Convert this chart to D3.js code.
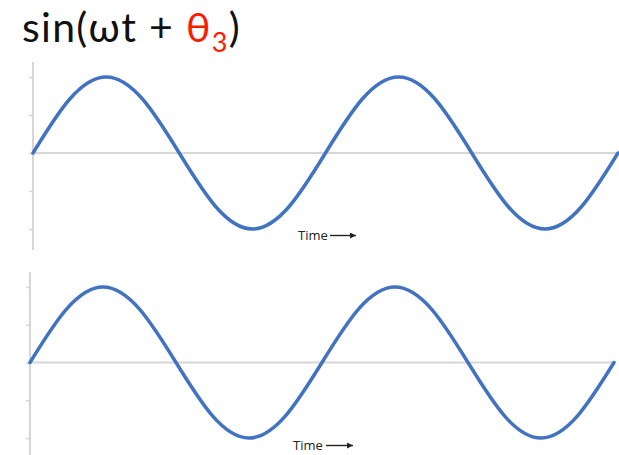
<!DOCTYPE html>
<html>
<head>
<meta charset="utf-8">
<script src="https://cdn.jsdelivr.net/npm/d3@7"></script>
<style>
  html, body { margin: 0; padding: 0; background: #ffffff; }
  svg { display: block; }
</style>
</head>
<body>
<svg id="chart" width="619" height="455"></svg>
<script>
// Wave samples: phase (in periods) and amplitude at each sample
const phaseSteps = [0, 0.125, 0.25, 0.375, 0.5, 0.625, 0.75, 0.875, 1,
                    1.125, 1.25, 1.375, 1.5, 1.625, 1.75, 1.875, 2];
const waveValues = [0, 0.707, 1, 0.707, 0, -0.707, -1, -0.707, 0,
                    0.707, 1, 0.707, 0, -0.707, -1, -0.707, 0];
// Vertical axis ticks
const tickValues = [-1, -0.5, 0, 0.5, 1];
const axisLabel = "Time";

const svg = d3.select("#chart");
const waveColor = "#4173c0";
const axisColor = "#d6d6d6";

// Title: sin(ωt + θ₃) with θ₃ in red
const title = svg.append("text")
  .attr("x", 22)
  .attr("y", 42)
  .style("font-family", "Lato, 'Open Sans', sans-serif")
  .style("font-size", "41px")
  .style("letter-spacing", "1.3px")
  .attr("fill", "#111");
title.append("tspan").text("sin(ωt + ");
title.append("tspan").attr("fill", "#ff1a00").text("θ");
title.append("tspan").attr("fill", "#ff1a00")
  .attr("dy", 10).style("font-size", "27px").text("3");
title.append("tspan").attr("dy", -10).text(")");

const data = phaseSteps.map((p, i) => ({ p, v: waveValues[i] }));

svg.append("defs").append("marker")
  .attr("id", "arrowhead")
  .attr("viewBox", "0 0 10 10")
  .attr("refX", 10).attr("refY", 5)
  .attr("markerWidth", 8).attr("markerHeight", 6)
  .attr("markerUnits", "userSpaceOnUse")
  .attr("orient", "auto")
  .append("path").attr("d", "M0,0 L10,5 L0,10 Z").attr("fill", "#222");

function drawPanel(cfg) {
  const g = svg.append("g");
  const x = d3.scaleLinear().domain([0, 2]).range([cfg.left, cfg.right]);
  const y = d3.scaleLinear().domain([-1, 1]).range([cfg.bottom, cfg.top]);

  // vertical axis with short ticks
  const axis = d3.axisLeft(y).tickValues(tickValues).tickSize(4).tickFormat("");
  const ag = g.append("g").attr("transform", `translate(${cfg.left},0)`).call(axis);
  ag.select(".domain").remove();
  ag.selectAll(".tick line").attr("stroke", axisColor).attr("stroke-width", 1.5);
  g.append("line")
    .attr("x1", cfg.left).attr("x2", cfg.left)
    .attr("y1", cfg.axisTop).attr("y2", cfg.axisBottom)
    .attr("stroke", axisColor).attr("stroke-width", 2);

  // zero line
  g.append("line")
    .attr("x1", x(0)).attr("x2", x(2))
    .attr("y1", y(0)).attr("y2", y(0))
    .attr("stroke", axisColor).attr("stroke-width", 2);

  // wave
  const line = d3.line().x(d => x(d.p)).y(d => y(d.v)).curve(d3.curveNatural);
  g.append("path").datum(data)
    .attr("d", line)
    .attr("fill", "none")
    .attr("stroke", waveColor)
    .attr("stroke-width", 3.5)
    .attr("stroke-linecap", "round");

  // Time label with arrow
  g.append("text")
    .attr("x", cfg.labelX).attr("y", cfg.labelY)
    .style("font-family", "'Open Sans', sans-serif")
    .style("font-size", "13px")
    .attr("fill", "#222")
    .text(axisLabel);
  g.append("line")
    .attr("x1", cfg.arrowX1).attr("x2", cfg.arrowX2)
    .attr("y1", cfg.labelY - 4.5).attr("y2", cfg.labelY - 4.5)
    .attr("stroke", "#222").attr("stroke-width", 1.4)
    .attr("marker-end", "url(#arrowhead)");
}

drawPanel({ left: 33, right: 618, top: 77, bottom: 229, axisTop: 62, axisBottom: 250,
            labelX: 298, labelY: 240, arrowX1: 330, arrowX2: 356 });
drawPanel({ left: 30, right: 614, top: 287, bottom: 438, axisTop: 272, axisBottom: 455,
            labelX: 293, labelY: 450, arrowX1: 326, arrowX2: 353 });
</script>
</body>
</html>
